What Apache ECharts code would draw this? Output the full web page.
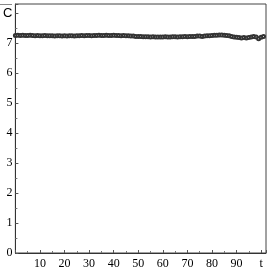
<!DOCTYPE html>
<html><head><meta charset="utf-8">
<script src="https://cdn.jsdelivr.net/npm/echarts@6/dist/echarts.min.js"></script>
<style>html,body{margin:0;padding:0;background:#fff}#c{width:273px;height:272px}</style>
</head><body><div id="c"></div>
<script>
const tValues = Array.from({length:102},(_,i)=>i);
const cValues = [
7.25,7.26,7.25,7.26,7.25,7.25,7.26,7.25,7.24,7.25,
7.24,7.24,7.25,7.24,7.24,7.24,7.23,7.24,7.24,7.23,
7.24,7.23,7.24,7.24,7.23,7.24,7.24,7.25,7.24,7.25,
7.25,7.24,7.25,7.25,7.26,7.25,7.25,7.26,7.25,7.25,
7.26,7.25,7.25,7.24,7.25,7.24,7.24,7.23,7.23,7.22,
7.22,7.22,7.21,7.21,7.21,7.20,7.21,7.20,7.20,7.20,
7.20,7.21,7.20,7.20,7.21,7.21,7.20,7.21,7.21,7.22,
7.21,7.22,7.22,7.22,7.23,7.23,7.22,7.23,7.24,7.24,
7.25,7.26,7.26,7.27,7.27,7.26,7.25,7.24,7.22,7.20,
7.19,7.18,7.17,7.18,7.17,7.18,7.20,7.22,7.20,7.14,
7.19,7.22];
const xTicks = {10:'10',20:'20',30:'30',40:'40',50:'50',60:'60',70:'70',80:'80',90:'90',100:'t'};
const yTicks = {0:'0',1:'1',2:'2',3:'3',4:'4',5:'5',6:'6',7:'7',8:'{c|C}'};

const chart = echarts.init(document.getElementById('c'));
chart.setOption({
  animation:false,
  color:['#333'],
  grid:{left:12,right:7,top:4,bottom:19,show:true,borderColor:'#444',borderWidth:1,backgroundColor:'transparent'},
  graphic:[{type:'line',shape:{x1:0,y1:4.5,x2:12,y2:4.5},style:{stroke:'#888',lineWidth:1}}],
  xAxis:{type:'value',min:0,max:102,interval:10,
    axisLine:{lineStyle:{color:'#333'}},
    axisTick:{show:true,inside:true,length:3,lineStyle:{color:'#555'}},
    minorTick:{show:true,splitNumber:2,length:2,lineStyle:{color:'#777'}},
    splitLine:{show:false},
    axisLabel:{showMinLabel:false,showMaxLabel:false,margin:5,color:'#000',fontFamily:'Liberation Serif',fontSize:12,
      formatter:v=>xTicks[v]||''}},
  yAxis:{type:'value',min:0,max:8.3,interval:1,
    axisLine:{show:true,lineStyle:{color:'#333'}},
    axisTick:{show:true,inside:true,length:3,lineStyle:{color:'#555'}},
    minorTick:{show:true,splitNumber:2,length:2,lineStyle:{color:'#777'}},
    splitLine:{show:false},
    axisLabel:{margin:3,color:'#000',fontFamily:'Liberation Serif',fontSize:12,
      formatter:v=>yTicks[v]!==undefined?yTicks[v]:'',
      rich:{c:{fontFamily:'Liberation Sans',fontSize:13,color:'#000'}}}},
  series:[{type:'line',data:tValues.map((t,i)=>[t,cValues[i]]),
    symbol:'emptyCircle',symbolSize:3,showSymbol:true,showAllSymbol:true,
    z:10,
    lineStyle:{color:'#444',width:0.8},
    itemStyle:{borderColor:'#333',borderWidth:0.8}}]
});
</script></body></html>
